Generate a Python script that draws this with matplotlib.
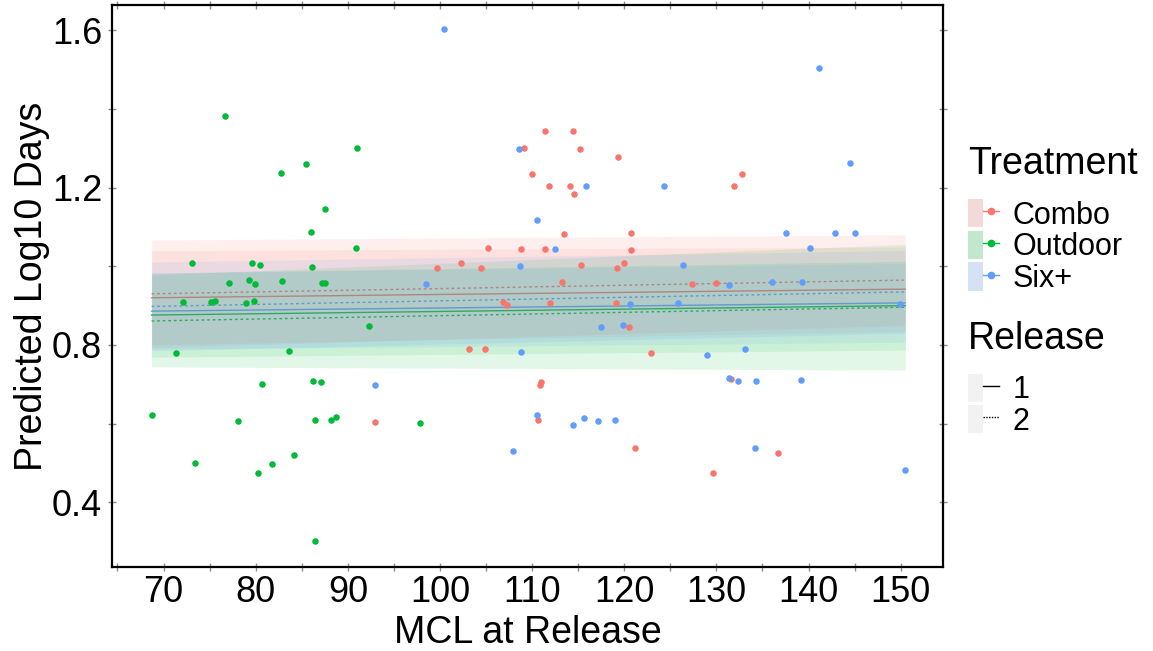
import matplotlib

matplotlib.use("Agg")
import matplotlib.pyplot as plt
import numpy as np
from matplotlib.colors import to_rgb
from matplotlib.legend_handler import HandlerTuple
from matplotlib.lines import Line2D
from matplotlib.patches import Patch
from matplotlib.ticker import MultipleLocator

plt.rcParams["font.family"] = ["Liberation Sans", "DejaVu Sans"]

TREATMENTS = ["Combo", "Outdoor", "Six+"]
COLORS = {"Combo": "#F8766D", "Outdoor": "#00BA38", "Six+": "#619CFF"}

# observed points (MCL at release, log10 days)
combo_mcl = [111.4, 114.4, 109.1, 115.2, 119.3, 110.0, 111.8, 114.1, 114.5, 113.5,
             120.7, 105.2, 108.8, 111.4, 120.7, 99.7, 102.3, 104.4, 115.3, 120.0,
             119.2, 113.2, 132.8, 131.9, 127.3, 130.0, 106.8, 107.3, 111.9, 119.1,
             120.5, 103.2, 104.9, 122.9, 111.0, 110.9, 110.6, 121.2, 131.6, 136.7,
             129.6, 93.0]
combo_days = [1.344, 1.344, 1.302, 1.299, 1.278, 1.236, 1.204, 1.204, 1.183, 1.083,
              1.086, 1.046, 1.043, 1.043, 1.041, 0.996, 1.009, 0.996, 1.003, 1.009,
              0.996, 0.961, 1.236, 1.204, 0.956, 0.958, 0.908, 0.901, 0.906, 0.906,
              0.845, 0.790, 0.790, 0.780, 0.706, 0.697, 0.610, 0.539, 0.713, 0.526,
              0.475, 0.605]

outdoor_mcl = [76.7, 91.0, 82.7, 85.5, 87.5, 86.0, 90.9, 73.1, 79.6, 80.5,
               86.1, 77.1, 79.3, 79.9, 82.9, 87.2, 87.5, 72.1, 75.1, 75.6,
               79.0, 79.8, 92.3, 71.4, 83.6, 80.7, 86.2, 87.1, 68.7, 78.1,
               86.4, 88.2, 88.7, 73.4, 81.8, 84.2, 80.2, 86.4, 97.8]
outdoor_days = [1.383, 1.302, 1.238, 1.260, 1.146, 1.087, 1.046, 1.009, 1.009, 1.003,
                0.998, 0.958, 0.965, 0.956, 0.963, 0.958, 0.958, 0.908, 0.908, 0.911,
                0.906, 0.911, 0.847, 0.779, 0.784, 0.700, 0.707, 0.705, 0.621, 0.607,
                0.610, 0.610, 0.617, 0.499, 0.496, 0.520, 0.475, 0.301, 0.602]

six_mcl = [100.4, 108.6, 115.8, 124.3, 110.5, 112.5, 108.7, 98.5, 141.1, 144.5,
           137.6, 142.9, 145.0, 140.2, 126.4, 131.4, 136.0, 139.3, 120.6, 117.5,
           119.9, 108.8, 110.5, 114.4, 115.6, 117.2, 119.0, 107.9, 125.8, 149.9,
           129.0, 133.1, 131.4, 132.4, 134.3, 139.2, 134.2, 150.5, 92.9]
six_days = [1.603, 1.299, 1.204, 1.204, 1.117, 1.043, 1.001, 0.956, 1.505, 1.262,
            1.086, 1.086, 1.086, 1.046, 1.003, 0.953, 0.961, 0.961, 0.903, 0.845,
            0.850, 0.782, 0.621, 0.597, 0.613, 0.607, 0.610, 0.531, 0.906, 0.903,
            0.774, 0.790, 0.715, 0.707, 0.707, 0.711, 0.539, 0.483, 0.697]

# model predictions at the ends of the MCL range: (fit, lower, upper) per release
fit_mcl = [68.7, 150.5]
combo_r1 = ([0.920, 0.942], [0.800, 0.835], [1.040, 1.049])
combo_r2 = ([0.930, 0.965], [0.793, 0.850], [1.067, 1.080])
outdoor_r1 = ([0.876, 0.900], [0.769, 0.787], [0.983, 1.013])
outdoor_r2 = ([0.861, 0.896], [0.744, 0.736], [0.978, 1.056])
six_r1 = ([0.886, 0.907], [0.789, 0.807], [0.983, 1.007])
six_r2 = ([0.898, 0.935], [0.785, 0.830], [1.011, 1.040])

points = {
    "Combo": (combo_mcl, combo_days),
    "Outdoor": (outdoor_mcl, outdoor_days),
    "Six+": (six_mcl, six_days),
}
fits = {
    "Combo": (combo_r1, combo_r2),
    "Outdoor": (outdoor_r1, outdoor_r2),
    "Six+": (six_r1, six_r2),
}
DOTTED = (0, (2, 2))

fig = plt.figure(figsize=(11.53, 6.51), dpi=100)
ax = fig.add_axes([0.0971, 0.129, 0.7208, 0.8634])

# fitted lines first, ribbons on top of them (as in the original)
for name in TREATMENTS:
    r1, r2 = fits[name]
    ax.plot(fit_mcl, r1[0], color=COLORS[name], lw=1.0, zorder=1)
    ax.plot(fit_mcl, r2[0], color=COLORS[name], lw=1.0, ls=DOTTED, zorder=1)
for name in TREATMENTS:
    for fit in fits[name]:
        ax.fill_between(fit_mcl, fit[1], fit[2], color=COLORS[name], alpha=0.11,
                        lw=0, zorder=2)
for name in TREATMENTS:
    x, y = points[name]
    ax.scatter(x, y, s=22, color=COLORS[name], lw=0, zorder=3)

ax.set_xlim(64.4, 154.6)
ax.set_ylim(0.235, 1.665)
ax.xaxis.set_major_locator(MultipleLocator(10))
ax.xaxis.set_minor_locator(MultipleLocator(5))
ax.yaxis.set_major_locator(MultipleLocator(0.4))
ax.yaxis.set_minor_locator(MultipleLocator(0.2))
ax.yaxis.set_major_formatter(lambda v, _: f"{v:.1f}")
ax.tick_params(which="both", direction="inout", top=True, right=True,
               color="#8c8c8c", width=1.0, length=6)
ax.tick_params(which="major", labelsize=26, labelcolor="black", pad=4)
ax.tick_params(axis="x", which="major", pad=3)
for spine in ax.spines.values():
    spine.set_linewidth(1.6)
    spine.set_color("black")

ax.set_xlabel("MCL at Release", fontsize=27, labelpad=3)
ax.set_ylabel("Predicted Log10 Days", fontsize=27, labelpad=1)

# legends
key_bg = np.array(to_rgb("#F2F2F2"))
treat_handles = []
for name in TREATMENTS:
    c = np.array(to_rgb(COLORS[name]))
    fill = key_bg + 0.2 * (c - key_bg)
    treat_handles.append((
        Patch(facecolor=fill, edgecolor="none"),
        Line2D([], [], color=COLORS[name], lw=1.0, marker="o", markersize=4.5),
    ))
legend_kw = dict(loc="upper left", frameon=False, fontsize=22, title_fontsize=27,
                 handlelength=1.0, handleheight=1.05, labelspacing=0.0,
                 handletextpad=0.45, borderpad=0.2,
                 handler_map={tuple: HandlerTuple(ndivide=None, pad=0)})
leg1 = fig.legend(treat_handles, TREATMENTS, title="Treatment",
                  bbox_to_anchor=(0.821, 0.808), **legend_kw)
leg1._legend_box.align = "left"
leg1._legend_box.sep = 12

rel_handles = [
    (Patch(facecolor="#F2F2F2", edgecolor="none"),
     Line2D([], [], color="black", lw=1.0)),
    (Patch(facecolor="#F2F2F2", edgecolor="none"),
     Line2D([], [], color="black", lw=1.0, ls=(0, (1, 1)))),
]
leg2 = fig.legend(rel_handles, ["1", "2"], title="Release",
                  bbox_to_anchor=(0.821, 0.540), **legend_kw)
leg2._legend_box.align = "left"
leg2._legend_box.sep = 12

fig.savefig("out.png", dpi=100)
